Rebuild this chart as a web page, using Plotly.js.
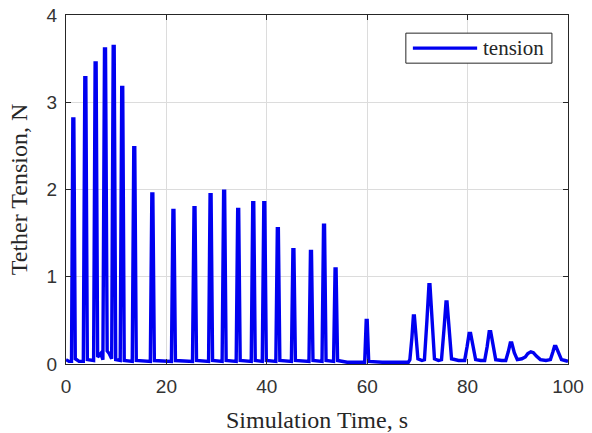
<!DOCTYPE html>
<html>
<head>
<meta charset="utf-8">
<script src="https://cdn.plot.ly/plotly-3.0.1.min.js"></script>
<style>html,body{margin:0;padding:0;background:#fff;}#chart{width:592px;height:433px;}</style>
</head>
<body>
<div id="chart"></div>
<script>
// Simulation time (s)
var timeS = [
  0, 0.6,
  1.1, 1.36, 1.56, 1.85, 2.6,
  3.45, 3.75, 3.95, 4.25, 4.9,
  5.5, 5.8, 6.0, 6.3, 6.9,
  7.35, 7.67, 7.87, 8.2, 8.6,
  9.1, 9.4, 9.6, 9.9, 10.4,
  10.8, 11.1, 11.3, 11.6, 12.6,
  13.2, 13.5, 13.7, 14.0, 16.2,
  16.8, 17.1, 17.3, 17.6, 20.4,
  21.0, 21.3, 21.5, 21.8, 24.6,
  25.2, 25.5, 25.7, 26.0, 27.8,
  28.4, 28.7, 28.9, 29.2, 30.5,
  31.1, 31.4, 31.6, 31.9, 33.3,
  33.9, 34.2, 34.4, 34.7, 36.3,
  36.9, 37.2, 37.4, 37.7, 38.6,
  39.1, 39.4, 39.6, 39.9, 41.2,
  41.8, 42.1, 42.3, 42.6, 44.3,
  44.9, 45.2, 45.4, 45.7, 47.8,
  48.4, 48.7, 48.9, 49.2, 50.4,
  51.0, 51.3, 51.5, 51.8, 52.8,
  53.3, 53.6, 53.8, 54.1, 56.0, 59.0,
  59.5, 59.8, 60.0, 60.3, 63.0, 68.2,
  68.5, 68.9, 69.2, 69.4, 69.7, 70.1, 70.9,
  71.4, 71.9, 72.3, 72.5, 72.9, 73.4, 74.2,
  74.8, 75.3, 75.7, 75.9, 76.3, 76.8, 78.2,
  79.4, 79.9, 80.3, 80.6, 81.1, 81.6, 82.6,
  83.4, 83.9, 84.3, 84.6, 85.1, 85.6, 86.8,
  87.6, 88.1, 88.5, 88.8, 89.3, 89.9, 90.8,
  91.5, 92.0, 92.6, 93.1, 93.7, 94.5, 95.6,
  96.5, 97.0, 97.3, 97.6, 98.1, 98.7, 99.4, 100
];
// Tether tension (N)
var tensionN = [
  0.05, 0.03,
  0.03, 2.81, 2.81, 0.06, 0.03,
  0.03, 3.28, 3.28, 0.05, 0.04,
  0.04, 3.45, 3.45, 0.08, 0.12,
  0.05, 3.61, 3.61, 0.15, 0.12,
  0.06, 3.64, 3.64, 0.05, 0.04,
  0.04, 3.17, 3.17, 0.04, 0.03,
  0.03, 2.48, 2.48, 0.04, 0.03,
  0.03, 1.95, 1.95, 0.04, 0.03,
  0.03, 1.76, 1.76, 0.04, 0.03,
  0.03, 1.79, 1.79, 0.04, 0.03,
  0.03, 1.94, 1.94, 0.04, 0.03,
  0.03, 1.98, 1.98, 0.04, 0.03,
  0.03, 1.77, 1.77, 0.04, 0.03,
  0.03, 1.85, 1.85, 0.04, 0.03,
  0.03, 1.85, 1.85, 0.04, 0.03,
  0.03, 1.55, 1.55, 0.04, 0.03,
  0.03, 1.31, 1.31, 0.04, 0.03,
  0.03, 1.29, 1.29, 0.04, 0.03,
  0.03, 1.59, 1.59, 0.04, 0.03,
  0.03, 1.09, 1.09, 0.04, 0.02, 0.02,
  0.02, 0.50, 0.50, 0.03, 0.02, 0.02,
  0.05, 0.30, 0.55, 0.55, 0.30, 0.06, 0.04,
  0.05, 0.50, 0.91, 0.91, 0.50, 0.06, 0.04,
  0.05, 0.40, 0.71, 0.71, 0.40, 0.06, 0.04,
  0.04, 0.20, 0.35, 0.35, 0.18, 0.05, 0.04,
  0.04, 0.20, 0.37, 0.37, 0.18, 0.05, 0.04,
  0.04, 0.14, 0.24, 0.24, 0.13, 0.05, 0.06,
  0.08, 0.12, 0.14, 0.13, 0.09, 0.05, 0.04,
  0.05, 0.14, 0.20, 0.20, 0.12, 0.05, 0.04, 0.03
];
var xTicks = [0, 20, 40, 60, 80, 100];
var yTicks = [0, 1, 2, 3, 4];
var seriesName = 'tension';

var axisColor = '#262626';
var trace = {
  x: timeS, y: tensionN, type: 'scatter', mode: 'lines', name: seriesName,
  line: {color: '#0000f0', width: 3.4}, showlegend: false, hoverinfo: 'skip'
};
var common = {
  showline: true, linecolor: axisColor, linewidth: 1, mirror: 'ticks',
  ticks: 'inside', ticklen: 5, tickcolor: axisColor, tickwidth: 1,
  showgrid: true, gridcolor: '#dcdcdc', gridwidth: 1, zeroline: false,
  tickfont: {family: 'Liberation Sans, Arial, sans-serif', size: 19, color: '#333333'}
};
var layout = {
  width: 592, height: 433,
  margin: {l: 66, r: 24, t: 15, b: 69},
  paper_bgcolor: '#ffffff', plot_bgcolor: '#ffffff',
  xaxis: Object.assign({}, common, {
    range: [0, 100], tickvals: xTicks, ticktext: xTicks.map(String),
    ticklabelstandoff: 5,
    title: {text: 'Simulation Time, s', standoff: 15,
      font: {family: 'Liberation Serif, Times New Roman, serif', size: 24, color: axisColor}}
  }),
  yaxis: Object.assign({}, common, {
    range: [0, 4], tickvals: yTicks, ticktext: yTicks.map(String),
    ticklabelstandoff: 4,
    title: {text: 'Tether Tension, N', standoff: 12,
      font: {family: 'Liberation Serif, Times New Roman, serif', size: 24, color: axisColor}}
  }),
  shapes: [
    {type: 'rect', xref: 'paper', yref: 'paper', x0: 0.677, x1: 0.968, y0: 0.862, y1: 0.948,
      line: {color: axisColor, width: 1}, fillcolor: '#ffffff', layer: 'above'},
    {type: 'line', xref: 'paper', yref: 'paper', x0: 0.691, x1: 0.819, y0: 0.905, y1: 0.905,
      line: {color: '#0000f0', width: 3.4}, layer: 'above'}
  ],
  annotations: [
    {xref: 'paper', yref: 'paper', x: 0.826, y: 0.905, xanchor: 'left', yanchor: 'middle',
      text: seriesName, showarrow: false,
      font: {family: 'Liberation Serif, Times New Roman, serif', size: 21, color: axisColor}}
  ]
};
Plotly.newPlot('chart', [trace], layout, {staticPlot: true, displayModeBar: false});
</script>
</body>
</html>
